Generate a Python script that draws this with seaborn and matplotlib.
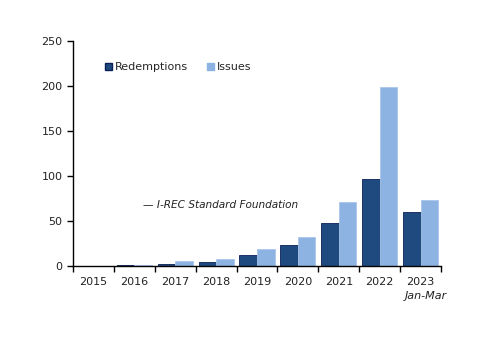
import pandas as pd
import numpy as np
import seaborn as sns
import matplotlib.pyplot as plt
import matplotlib.transforms as mtransforms
from matplotlib.patches import Patch

years = ['2015', '2016', '2017', '2018', '2019', '2020', '2021', '2022', '2023']
redemptions = [0, 0.7, 2, 4, 12, 23, 48, 97, 60]
issues = [0, 1.2, 5, 8, 18.5, 32, 71, 199, 73]

df = pd.DataFrame({
    'year': years * 2,
    'value': redemptions + issues,
    'series': ['Redemptions'] * len(years) + ['Issues'] * len(years),
})

sns.set_style('white')
plt.rcParams['font.family'] = ['DejaVu Sans']

dark = '#1F4A80'
light = '#8DB3E2'
fs = 8

fig = plt.figure(figsize=(5, 3.53), dpi=100)
ax = fig.add_axes([0.146, 0.2465, 0.736, 0.6375])

sns.barplot(data=df, x='year', y='value', hue='series', palette=[dark, light],
            width=0.86, gap=0, ax=ax, legend=False, saturation=1)

# bar outlines
for cont, ec in zip(ax.containers, ['#0B1F55', '#A9C6EA']):
    for bar in cont:
        bar.set_edgecolor(ec)
        bar.set_linewidth(0.6)

ax.set_ylim(0, 250)
ax.set_xlim(-0.5, len(years) - 0.5)
ax.set_yticks([0, 50, 100, 150, 200, 250])
ax.set_xlabel('')
ax.set_ylabel('')

# x ticks at category boundaries, labels centred in categories
ax.set_xticks(np.arange(-0.5, len(years)), minor=False)
ax.set_xticklabels([])
ax.set_xticks(np.arange(len(years)), minor=True)
ax.set_xticklabels(years, minor=True)
ax.tick_params(axis='x', which='major', direction='out', length=4, width=1, color='black', bottom=True)
ax.tick_params(axis='x', which='minor', length=0, pad=8, labelsize=fs, labelcolor='#222222')
ax.tick_params(axis='y', direction='out', length=4, width=1, color='black', left=True,
               labelsize=fs, labelcolor='#222222')

for side in ['top', 'right']:
    ax.spines[side].set_visible(False)
for side in ['left', 'bottom']:
    ax.spines[side].set_color('black')
    ax.spines[side].set_linewidth(1)

trans = mtransforms.blended_transform_factory(ax.transData, ax.transAxes)
ax.text(8.13, -0.135, 'Jan-Mar', transform=trans, ha='center', va='center',
        style='italic', fontsize=fs, color='#222222')

# legend
handles = [Patch(facecolor=dark, edgecolor='#0B1F55', label='Redemptions'),
           Patch(facecolor=light, edgecolor=light, label='Issues')]
ax.legend(handles=handles, ncol=2, loc='upper left', bbox_to_anchor=(0.075, 0.925),
          frameon=False, handlelength=0.6, handleheight=0.6, handletextpad=0.3,
          columnspacing=1.7, fontsize=fs, borderaxespad=0)

ax.text(0.19, 0.27, '— I-REC Standard Foundation', transform=ax.transAxes,
        style='italic', fontsize=7.6, color='#222222', ha='left', va='center')

plt.savefig('out.png', dpi=100)
plt.close()
